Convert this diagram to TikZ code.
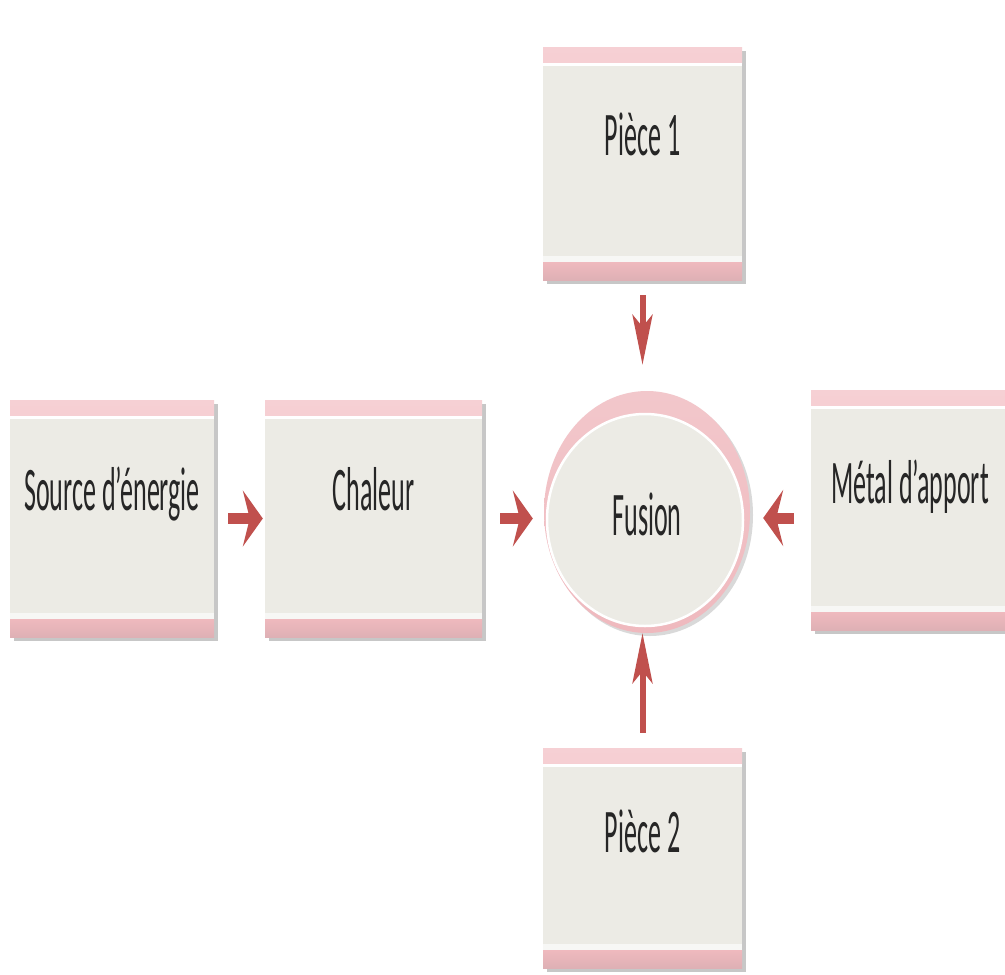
\documentclass[tikz,border=0pt]{standalone}
\usepackage{fontspec}
\setmainfont{Carlito}
\newfontfamily\boxfont[FakeStretch=0.42]{Carlito}
\usetikzlibrary{shapes.geometric,arrows.meta,shadows,calc}
\definecolor{bodygray}{HTML}{ECEBE5}
\definecolor{bandpink}{HTML}{EFB9BE}
\definecolor{bandlight}{HTML}{F6D0D4}
\definecolor{arrowred}{HTML}{C0504D}
\tikzset{
  txt/.style={font=\boxfont\fontsize{62}{70}\selectfont, text=black!85},
  boxnode/.style 2 args={rectangle, fill=bodygray, minimum width=#1pt, minimum height=#2pt,
    inner sep=0pt, txt,
    drop shadow={shadow xshift=4pt, shadow yshift=-4pt, fill=black, opacity=0.22},
    path picture={
      \fill[top color=bandlight, bottom color=bandpink] (path picture bounding box.north west) rectangle ([yshift=-16pt]path picture bounding box.north east);
      \fill[white] ([yshift=-16pt]path picture bounding box.north west) rectangle ([yshift=-19pt]path picture bounding box.north east);
      \fill[top color=bandpink, bottom color=bandpink!85!gray] (path picture bounding box.south west) rectangle ([yshift=18pt]path picture bounding box.south east);
      \fill[white!60!bodygray] ([yshift=18pt]path picture bounding box.south west) rectangle ([yshift=24pt]path picture bounding box.south east);
    }},
  harr/.style={draw=arrowred, line width=11pt, -{Stealth[length=20pt, width=56pt, inset=7pt]}},
  varr/.style={draw=arrowred, line width=6pt, -{Stealth[length=50pt, width=20pt, inset=12pt]}}
}
\begin{document}
\begin{tikzpicture}[x=1pt, y=-1pt]
\useasboundingbox[fill=white] (0,0) rectangle (1005,975);

\node[boxnode={204}{237}] (src) at (112,518.5) {\raisebox{8pt}[0pt][0pt]{Source d’énergie}};
\node[boxnode={217}{237}] (chal) at (373.5,518.5) {\raisebox{8pt}[0pt][0pt]{Chaleur}};
\node[boxnode={198}{240}] (metal) at (910,510) {\raisebox{7pt}[0pt][0pt]{Métal d’apport}};
\node[boxnode={199}{233}] (p1) at (642.5,163.5) {\raisebox{8.5pt}[0pt][0pt]{Pièce 1}};
\node[boxnode={199}{220}] (p2) at (642.5,858) {\raisebox{6pt}[0pt][0pt]{Pièce 2}};

\node[ellipse, minimum width=206pt, minimum height=242pt, inner sep=0pt, txt,
  top color=bandpink!80!white, bottom color=bandpink,
  drop shadow={shadow xshift=3pt, shadow yshift=-3pt, fill=black, opacity=0.15},
  path picture={\fill[bodygray, draw=white, line width=2.5pt] ([shift={(-2pt,-8pt)}]path picture bounding box.center) ellipse [x radius=98pt, y radius=106pt];}]
  (fusion) at (647,512) {\raisebox{-23pt}[0pt][0pt]{Fusion}};

\coordinate (ma) at ([yshift=-8pt]metal.west);
\draw[harr, shorten <=14pt, shorten >=2pt] (src.east) -- (chal.west);
\draw[harr, shorten <=18pt, shorten >=11pt] (chal.east) -- (chal.east -| fusion.west);
\draw[harr, shorten <=17pt, shorten >=13pt] (ma) -- (ma -| fusion.east);
\draw[varr, shorten <=15pt, shorten >=26pt] (p1.south) -- (p1.south |- fusion.north);
\draw[varr, shorten <=15pt, shorten >=0pt] (p2.north) -- (p2.north |- fusion.south);
\end{tikzpicture}
\end{document}
